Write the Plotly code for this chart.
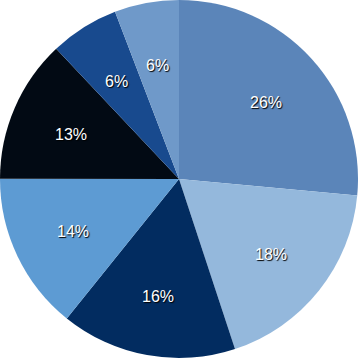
import math
import plotly.graph_objects as go

labels = ["A", "B", "C", "D", "E", "F", "G"]
values = [26.4, 18.4, 15.8, 14.2, 12.9, 6.2, 5.8]
colors = ["#5b85b9", "#94b8dc", "#022c60", "#5d9bd3", "#020a14", "#184a8e", "#6f99c9"]

W, H = 358, 360
MB = 2

fig = go.Figure(go.Pie(
    labels=labels,
    values=values,
    sort=False,
    direction="clockwise",
    rotation=0,
    marker=dict(colors=colors, line=dict(width=0)),
    textinfo="none",
    hoverinfo="label+percent",
    showlegend=False,
))

# percent labels at slice mid-angles
total = sum(values)
R = min(W, H - MB) / 2
plot_h = H - MB
cum = 0.0
annotations = []
for v in values:
    mid = (cum + v / 2) / total * 2 * math.pi
    cum += v
    r = 0.655 * R
    annotations.append(dict(
        x=0.5 + r * math.sin(mid) / W,
        y=0.5 + r * math.cos(mid) / plot_h,
        xref="paper", yref="paper",
        xanchor="center", yanchor="middle",
        yshift=-2,
        text=f"{round(v / total * 100)}%",
        showarrow=False,
        font=dict(color="white", size=16, family="Liberation Sans",
                  shadow="1px 1px 1px #000"),
    ))

fig.update_layout(
    width=W, height=H,
    margin=dict(l=0, r=0, t=0, b=MB),
    paper_bgcolor="white",
    plot_bgcolor="white",
    annotations=annotations,
)
fig.write_html("out.html", config={"displayModeBar": False},
               post_script="document.body.style.margin='0';")
